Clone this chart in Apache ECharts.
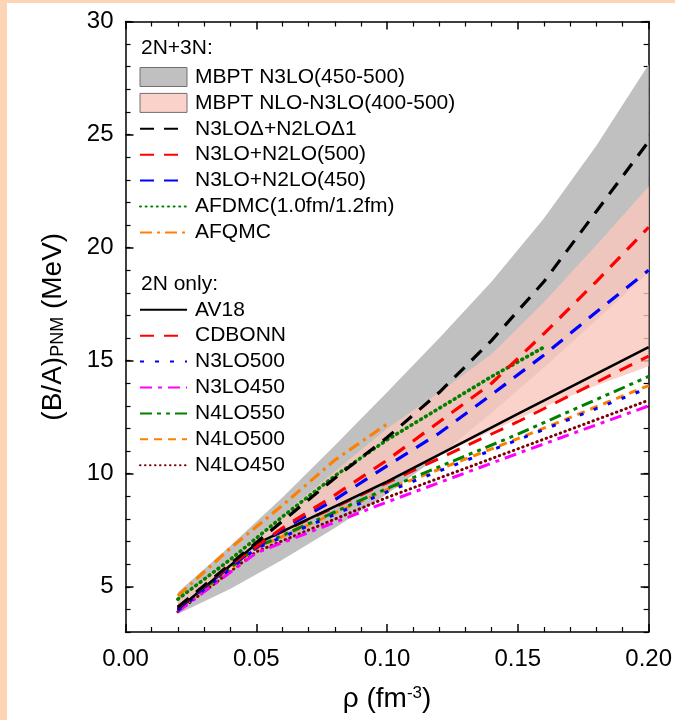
<!DOCTYPE html>
<html>
<head>
<meta charset="utf-8">
<script src="https://cdn.jsdelivr.net/npm/echarts@6/dist/echarts.min.js"></script>
<style>
html,body{margin:0;padding:0;background:#fff;}
#chart{width:675px;height:720px;}
</style>
</head>
<body>
<div id="chart"></div>
<script>
// ---------- data ----------
const rhoBand = [0.02,0.04,0.06,0.08,0.10,0.12,0.14,0.16,0.18,0.20];
const grayUpper = [4.75,6.8,8.95,11.25,13.6,16.0,18.5,21.3,24.5,28.1];
const grayLower = [3.8,4.9,6.2,7.6,9.1,10.8,12.7,14.7,16.8,18.9];
const pinkUpper = [4.4,6.3,8.2,10.1,12.0,13.6,15.3,17.6,20.1,22.7];
const pinkLower = [4.0,5.7,7.3,8.6,9.7,10.8,11.9,12.95,13.9,14.75];

const rho3N = [0.02,0.04,0.06,0.08,0.10,0.12,0.14,0.16,0.18,0.20];
const n3loDelta = [4.1,6.0,7.9,9.8,11.6,13.6,15.9,18.5,21.6,24.7];
const n3loN2lo500 = [4.1,5.95,7.6,9.05,10.6,12.3,14.0,16.2,18.5,20.9];
const n3loN2lo450 = [4.05,5.9,7.55,8.85,10.35,11.8,13.5,15.25,17.15,19.0];

const rhoAFDMC = [0.02,0.04,0.06,0.08,0.10,0.12,0.14,0.16];
const afdmc = [4.45,6.2,8.1,9.9,11.5,12.9,14.3,15.6];
const rhoAFQMC = [0.02,0.04,0.06,0.08,0.10];
const afqmc = [4.6,6.7,8.6,10.6,12.2];

const rho2N = [0.02,0.05,0.10,0.15,0.20];
const av18 = [4.0,6.9,9.65,12.65,15.6];
const cdbonn = [4.05,6.9,9.6,12.3,15.2];
const n3lo500 = [3.95,6.7,9.2,11.5,13.8];
const n3lo450 = [3.9,6.5,8.75,10.9,13.0];
const n4lo550 = [4.0,6.75,9.35,11.75,14.3];
const n4lo500 = [3.95,6.7,9.3,11.55,13.9];
const n4lo450 = [3.9,6.55,8.95,11.1,13.25];

const xTicks = [0, 0.2, 0.05];
const yMajor = [5,10,15,20,25,30];

// ---------- chart ----------
const FONT = '"Liberation Sans", Arial, sans-serif';
const chart = echarts.init(document.getElementById('chart'), null, {renderer:'canvas'});
const pairs = (xs, ys) => xs.map((x,i)=>[x, ys[i]]);

function bandSeries(name, upper, lower, fill, z) {
  return {
    type:'custom', name:name, z:z,
    xAxisIndex:0, yAxisIndex:0,
    itemStyle:{color:fill},
    data:[[rhoBand[0], upper[0]]],
    renderItem:function(params, api){
      const pts = [];
      for (let i=0;i<rhoBand.length;i++) pts.push(api.coord([rhoBand[i], upper[i]]));
      for (let i=rhoBand.length-1;i>=0;i--) pts.push(api.coord([rhoBand[i], lower[i]]));
      return {type:'polygon', shape:{points:pts}, style:{fill:fill, stroke:null}};
    }
  };
}
function lineSeries(name, xs, ys, color, width, dash, cap) {
  return {
    type:'line', name:name, data:pairs(xs, ys), symbol:'none', showSymbol:false, z:5,
    xAxisIndex:0, yAxisIndex:0,
    itemStyle:{color:color},
    lineStyle:{color:color, width:width, type:dash, cap:cap||'butt'}
  };
}

const axisBase = {
  axisLine:{show:true, lineStyle:{color:'#000', width:1.5}},
  splitLine:{show:false}
};

const legendCommon = {
  orient:'vertical', left:139, padding:0, selectedMode:false,
  itemWidth:47, itemHeight:19, itemGap:4.9,
  itemStyle:{opacity:0},
  textStyle:{fontSize:21, color:'#000', fontFamily:FONT, lineHeight:20, padding:[0,0,0,3]}
};

const option = {
  animation:false,
  backgroundColor:'#fff',
  grid:{left:125.5, right:24.5, top:21.5, bottom:88, containLabel:false},
  xAxis:[
    Object.assign({}, axisBase, {
      type:'value', min:xTicks[0], max:xTicks[1], interval:xTicks[2], position:'bottom',
      axisTick:{inside:true, length:8, lineStyle:{color:'#000', width:1.5}},
      minorTick:{show:true, splitNumber:5, length:5, lineStyle:{color:'#000', width:1.2}},
      axisLabel:{formatter:v=>v.toFixed(2), fontSize:24, color:'#000', margin:15, fontFamily:FONT, showMaxLabel:true, showMinLabel:true},
      name:'ρ (fm{sup|-3})', nameLocation:'middle', nameGap:53,
      nameTextStyle:{fontSize:28, color:'#000', fontFamily:FONT,
        rich:{sup:{fontSize:17, verticalAlign:'top', padding:[0,0,12,0], fontFamily:FONT, color:'#000'}}}
    }),
    Object.assign({}, axisBase, {
      type:'value', min:xTicks[0], max:xTicks[1], interval:xTicks[2], position:'top',
      axisTick:{inside:true, length:8, lineStyle:{color:'#000', width:1.5}},
      minorTick:{show:true, splitNumber:5, length:5, lineStyle:{color:'#000', width:1.2}},
      axisLabel:{show:false}
    })
  ],
  yAxis:[
    Object.assign({}, axisBase, {
      type:'value', min:3, max:30, interval:1, position:'left',
      axisTick:{inside:true, length:5, lineStyle:{color:'#000', width:1.2}},
      axisLabel:{fontSize:24, color:'#000', margin:12, fontFamily:FONT,
        formatter:v=> (yMajor.indexOf(v)>=0 ? String(v) : '')},
      name:'(B/A){sub|PNM} (MeV)', nameLocation:'middle', nameGap:58, nameRotate:90,
      nameTextStyle:{fontSize:28, color:'#000', fontFamily:FONT,
        rich:{sub:{fontSize:18, verticalAlign:'bottom', padding:[9,0,0,0], fontFamily:FONT, color:'#000'}}}
    }),
    Object.assign({}, axisBase, {
      type:'value', min:3, max:30, interval:1, position:'left',
      axisLine:{show:false},
      axisTick:{inside:true, length:8, customValues:yMajor, lineStyle:{color:'#000', width:1.5}},
      axisLabel:{show:false}
    }),
    Object.assign({}, axisBase, {
      type:'value', min:3, max:30, interval:1, position:'right',
      axisTick:{inside:true, length:5, lineStyle:{color:'#000', width:1.2}},
      axisLabel:{show:false}
    }),
    Object.assign({}, axisBase, {
      type:'value', min:3, max:30, interval:1, position:'right',
      axisLine:{show:false},
      axisTick:{inside:true, length:8, customValues:yMajor, lineStyle:{color:'#000', width:1.5}},
      axisLabel:{show:false}
    })
  ],
  legend:[
    Object.assign({}, legendCommon, {
      top:66.5,
      data:[
        {name:'MBPT N3LO(450-500)', icon:'rect', itemStyle:{opacity:1, color:'#C0C0C0', borderColor:'#707070', borderWidth:1}},
        {name:'MBPT NLO-N3LO(400-500)', icon:'rect', itemStyle:{opacity:1, color:'#FAD2CA', borderColor:'#707070', borderWidth:1}},
        'N3LOΔ+N2LOΔ1','N3LO+N2LO(500)','N3LO+N2LO(450)','AFDMC(1.0fm/1.2fm)','AFQMC'
      ]
    }),
    Object.assign({}, legendCommon, {
      top:299.3,
      data:['AV18','CDBONN','N3LO500','N3LO450','N4LO550','N4LO500','N4LO450']
    })
  ],
  graphic:[
    {type:'rect', left:0, top:0, shape:{width:7, height:720}, style:{fill:'#FCD5B4'}, silent:true},
    {type:'rect', left:0, top:0, shape:{width:675, height:3}, style:{fill:'#FCD5B4'}, silent:true},
    {type:'text', left:141, top:38, style:{text:'2N+3N:', fontSize:21, fontFamily:FONT, fill:'#000'}},
    {type:'text', left:141, top:274, style:{text:'2N only:', fontSize:21, fontFamily:FONT, fill:'#000'}}
  ],
  series:[
    bandSeries('MBPT N3LO(450-500)', grayUpper, grayLower, '#C0C0C0', 1),
    bandSeries('MBPT NLO-N3LO(400-500)', pinkUpper, pinkLower, 'rgba(249,199,189,0.8)', 2),
    lineSeries('N4LO450', rho2N, n4lo450, '#800000', 3, [0.5,4.5], 'round'),
    lineSeries('N4LO500', rho2N, n4lo500, '#FF8000', 3, [8,6]),
    lineSeries('N4LO550', rho2N, n4lo550, '#008000', 3, [12,5,4,5,4,5]),
    lineSeries('N3LO450', rho2N, n3lo450, '#FF00FF', 3, [12,6,4,6]),
    lineSeries('N3LO500', rho2N, n3lo500, '#0000FF', 3, [4,11]),
    lineSeries('CDBONN', rho2N, cdbonn, '#FF0000', 3, [14,10]),
    lineSeries('AV18', rho2N, av18, '#000000', 2.6, 'solid'),
    lineSeries('AFQMC', rhoAFQMC, afqmc, '#FF8000', 3.2, [12,5,3,5]),
    lineSeries('AFDMC(1.0fm/1.2fm)', rhoAFDMC, afdmc, '#008000', 3.6, [1,4.6], 'round'),
    lineSeries('N3LO+N2LO(450)', rho3N, n3loN2lo450, '#0000FF', 3.2, [14,10]),
    lineSeries('N3LO+N2LO(500)', rho3N, n3loN2lo500, '#FF0000', 3.2, [14,10]),
    lineSeries('N3LOΔ+N2LOΔ1', rho3N, n3loDelta, '#000000', 3.2, [14,10])
  ]
};
chart.setOption(option);
</script>
</body>
</html>
